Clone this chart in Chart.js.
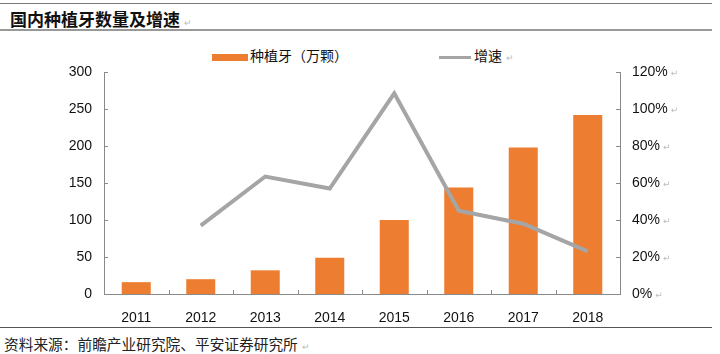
<!DOCTYPE html>
<html>
<head>
<meta charset="utf-8">
<script src="https://cdn.jsdelivr.net/npm/chart.js@4/dist/chart.umd.min.js"></script>
<style>
  body { margin: 0; background: #fff; width: 720px; height: 354px; position: relative; overflow: hidden; font-family: "Liberation Sans", Arial, sans-serif; }
  .rule { position: absolute; left: 0; width: 712px; }
  #title { position: absolute; left: 10px; top: 6px; font: bold 17px "Noto Sans CJK SC", sans-serif; color: #111; }
  #source { position: absolute; left: 4px; top: 333px; font: 14.7px "Noto Sans CJK SC", serif; color: #222; }
  .pm { color: #bbb; font-size: 9px; font-weight: normal; margin-left: 4px; }
  .legend { position: absolute; top: 45px; font: 14px "Noto Sans CJK SC", sans-serif; color: #111; }
  #wrap { position: absolute; left: 0; top: 36px; width: 720px; height: 290px; }
</style>
</head>
<body>
<div class="rule" style="top:3px;border-top:1px solid #777;"></div>
<div id="title">国内种植牙数量及增速<span class="pm">↵</span></div>
<div class="rule" style="top:29px;border-top:2px solid #999;"></div>

<div class="legend" style="left:212px;"><span style="display:inline-block;width:36px;height:7px;background:#ED7D31;vertical-align:middle;margin-right:2px;"></span>种植牙（万颗）</div>
<div class="legend" style="left:439px;"><span style="display:inline-block;width:32px;height:3px;background:#A5A5A5;vertical-align:middle;margin-right:3px;"></span>增速<span class="pm">↵</span></div>

<div id="wrap"><canvas id="chart"></canvas></div>

<div class="rule" style="top:327px;border-top:1px solid #555;"></div>
<div id="source">资料来源：前瞻产业研究院、平安证券研究所<span class="pm">↵</span></div>

<script>
const years = ['2011', '2012', '2013', '2014', '2015', '2016', '2017', '2018'];
const implants = [16, 20, 32, 49, 100, 144, 198, 242];
const growth = [null, 37, 63.5, 57, 108.5, 45, 38, 23];
const leftTicks = [0, 50, 100, 150, 200, 250, 300];
const rightTicks = [0, 20, 40, 60, 80, 100, 120];

const axisColor = '#8a8a8a';

// little tick marks that point into the plot, like the original
const innerTicks = {
  id: 'innerTicks',
  afterDraw(chart) {
    const ctx = chart.ctx;
    const { x, y, y1 } = chart.scales;
    const area = chart.chartArea;
    ctx.save();
    ctx.strokeStyle = axisColor;
    ctx.lineWidth = 1;
    ctx.beginPath();
    leftTicks.forEach(v => {
      const py = Math.round(y.getPixelForValue(v)) + 0.5;
      ctx.moveTo(area.left, py); ctx.lineTo(area.left + 4, py);
    });
    rightTicks.forEach(v => {
      const py = Math.round(y1.getPixelForValue(v)) + 0.5;
      ctx.moveTo(area.right - 4, py); ctx.lineTo(area.right, py);
    });
    for (let i = 1; i < years.length; i++) {
      const px = Math.round((x.getPixelForValue(i - 1) + x.getPixelForValue(i)) / 2) + 0.5;
      ctx.moveTo(px, area.bottom); ctx.lineTo(px, area.bottom - 4);
    }
    ctx.stroke();
    // paragraph marks after the right labels
    ctx.fillStyle = '#bbb';
    ctx.textBaseline = 'middle';
    rightTicks.forEach(v => {
      const label = v + '%';
      ctx.font = '14px "Liberation Sans"';
      const w = ctx.measureText(label).width;
      ctx.font = '9px "DejaVu Sans"';
      ctx.fillText('↵', area.right + 12 + w + 3, y1.getPixelForValue(v) + 2);
    });
    ctx.restore();
  }
};

new Chart(document.getElementById('chart'), {
  type: 'bar',
  data: {
    labels: years,
    datasets: [
      {
        type: 'line',
        label: '增速',
        data: growth,
        yAxisID: 'y1',
        borderColor: '#A5A5A5',
        borderWidth: 4,
        pointRadius: 0,
        tension: 0,
        order: 0
      },
      {
        label: '种植牙（万颗）',
        data: implants,
        yAxisID: 'y',
        backgroundColor: '#ED7D31',
        barPercentage: 1,
        categoryPercentage: 0.45,
        order: 1
      }
    ]
  },
  options: {
    responsive: true,
    maintainAspectRatio: false,
    animation: false,
    layout: { padding: { top: 36, left: 0, right: 0, bottom: 0 } },
    plugins: {
      legend: { display: false },
      tooltip: { enabled: false }
    },
    scales: {
      x: {
        grid: { display: false },
        border: { display: true, color: axisColor },
        ticks: { color: '#111', font: { size: 14, family: 'Liberation Sans' }, padding: 8 },
        afterFit(s) { s.height = 32; }
      },
      y: {
        position: 'left',
        min: 0, max: 300,
        afterBuildTicks(s) { s.ticks = leftTicks.map(v => ({ value: v })); },
        grid: { display: false, drawTicks: false },
        border: { display: true, color: axisColor },
        ticks: { color: '#111', font: { size: 14, family: 'Liberation Sans' }, padding: 12 },
        afterFit(s) { s.width = 104; }
      },
      y1: {
        position: 'right',
        min: 0, max: 120,
        afterBuildTicks(s) { s.ticks = rightTicks.map(v => ({ value: v })); },
        grid: { display: false, drawTicks: false },
        border: { display: true, color: axisColor },
        ticks: { color: '#111', font: { size: 14, family: 'Liberation Sans' }, padding: 12, callback: v => v + '%' },
        afterFit(s) { s.width = 100; }
      }
    }
  },
  plugins: [innerTicks]
});
</script>
</body>
</html>
